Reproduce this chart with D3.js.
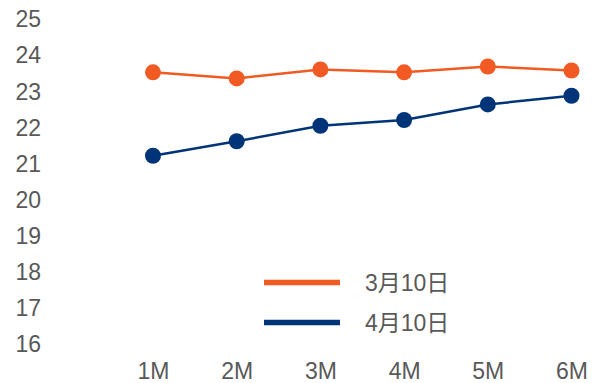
<!DOCTYPE html>
<html>
<head>
<meta charset="utf-8">
<script src="https://cdn.jsdelivr.net/npm/d3@7"></script>
<style>
  html, body { margin: 0; padding: 0; background: #fff; }
  svg text { font-family: Arial, "Liberation Sans", "Noto Sans CJK SC", sans-serif; fill: #595959; }
</style>
</head>
<body>
<svg id="chart" width="592" height="383"></svg>
<script>
// Tenors along the x axis
const tenors = ["1M", "2M", "3M", "4M", "5M", "6M"];
// Y axis tick labels
const yTicks = [16, 17, 18, 19, 20, 21, 22, 23, 24, 25];
// Series names
const seriesNames = ["3月10日", "4月10日"];
// Series values
const march10 = [23.51, 23.34, 23.59, 23.51, 23.67, 23.56];
const april10 = [21.20, 21.60, 22.03, 22.19, 22.62, 22.86];
const seriesColors = ["#F15A22", "#003479"];

const svg = d3.select("#chart");

const x = d3.scalePoint().domain(tenors).range([153, 571.5]);
const y = d3.scaleLinear().domain([16, 25]).range([343.5, 18.5]);

const fontSize = 23;

// Y axis labels (no axis line, no tick marks)
const yAxis = d3.axisLeft(y).tickValues(yTicks).tickSize(0).tickPadding(0).tickFormat(d3.format("d"));
const yG = svg.append("g").attr("transform", "translate(41,0)").call(yAxis);
yG.select(".domain").remove();
yG.selectAll("text")
  .attr("font-size", fontSize)
  .attr("font-family", null)
  .attr("dy", "0.36em")
  .attr("x", 0)
  .style("fill", "#595959");

// X axis labels
const xAxis = d3.axisBottom(x).tickSize(0).tickPadding(0);
const xG = svg.append("g").attr("transform", "translate(0,362.5)").call(xAxis);
xG.select(".domain").remove();
xG.selectAll("text")
  .attr("font-size", fontSize)
  .attr("font-family", null)
  .attr("dy", "0.72em")
  .style("fill", "#595959");

const series = [march10, april10];
const line = d3.line().x((d, i) => x(tenors[i])).y(d => y(d));

series.forEach((vals, s) => {
  svg.append("path")
    .datum(vals)
    .attr("d", line)
    .attr("fill", "none")
    .attr("stroke", seriesColors[s])
    .attr("stroke-width", 2.5);
  svg.append("g").selectAll("circle")
    .data(vals)
    .join("circle")
    .attr("cx", (d, i) => x(tenors[i]))
    .attr("cy", d => y(d))
    .attr("r", 8)
    .attr("fill", seriesColors[s]);
});

// Legend
const legend = svg.append("g");
seriesNames.forEach((name, s) => {
  const ly = 282.5 + s * 40;
  legend.append("line")
    .attr("x1", 264).attr("x2", 340)
    .attr("y1", ly).attr("y2", ly)
    .attr("stroke", seriesColors[s])
    .attr("stroke-width", 5.5);
  legend.append("text")
    .attr("x", 365).attr("y", ly)
    .attr("dy", "0.36em")
    .attr("font-size", fontSize)
    .text(name);
});
</script>
</body>
</html>
